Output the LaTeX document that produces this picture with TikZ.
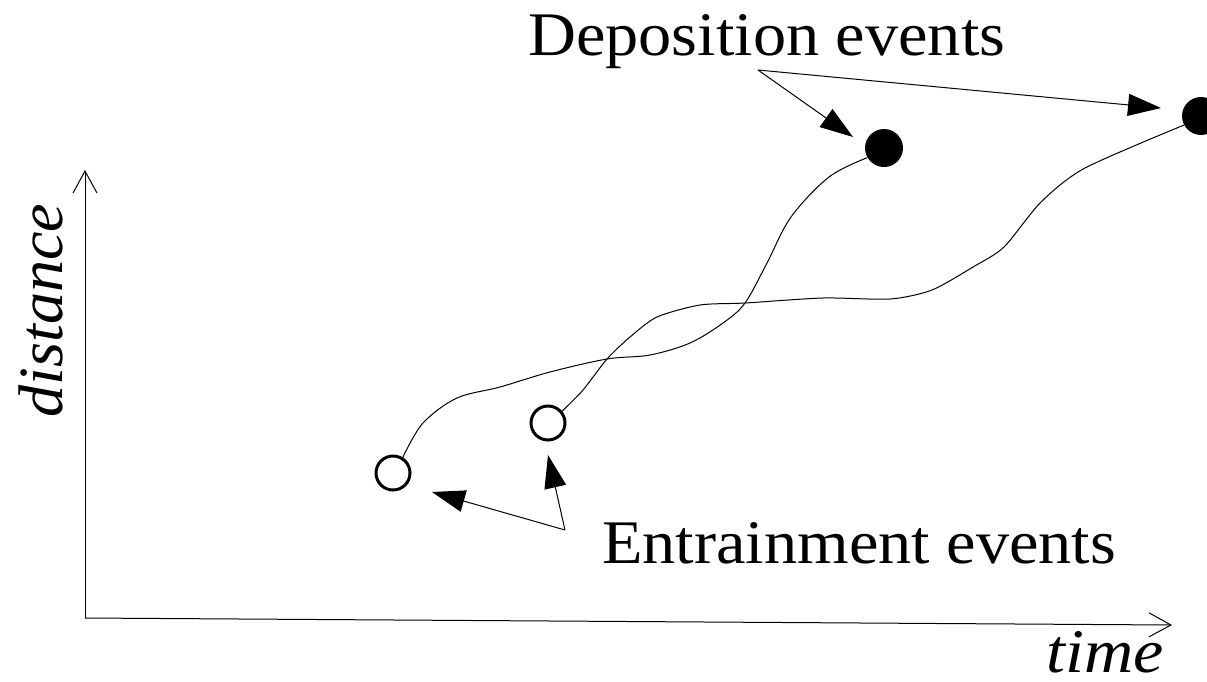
\documentclass[tikz,border=0pt]{standalone}
\usepackage{fontspec}
\setmainfont{Liberation Serif}
\newfontfamily\labelfont{Liberation Serif}[FakeStretch=1.07]
\newfontfamily\axisfont{Liberation Serif}[FakeStretch=1.1]
\newfontfamily\vaxisfont{Liberation Serif}[FakeStretch=1.02]
\usetikzlibrary{arrows.meta}

\tikzset{
  bigtext/.style={inner sep=0pt, font=\labelfont\fontsize{62}{70}\selectfont},
  axistext/.style={inner sep=0pt, font=\axisfont\fontsize{62}{70}\selectfont\itshape},
  vaxistext/.style={inner sep=0pt, font=\vaxisfont\fontsize{63}{70}\selectfont\itshape},
  axisline/.style={line width=1pt, -{Straight Barb[length=22pt,width=24pt,line width=1pt]}},
  pointer/.style={line width=1pt, -{Triangle[length=33pt,width=22pt]}},
  path line/.style={line width=1pt},
  entrain/.style={circle, draw, line width=3pt, minimum size=34pt, inner sep=0pt},
  deposit/.style={circle, fill, minimum size=38pt, inner sep=0pt},
}

\begin{document}
\begin{tikzpicture}[x=1pt,y=-1pt]
  \useasboundingbox (0,0) rectangle (1207,681);

  % axes
  \coordinate (origin) at (85,618);
  \coordinate (yend) at (85,170);
  \coordinate (xend) at (1172,625);
  \draw[axisline] (origin) -- (yend);
  \draw[axisline] (origin) -- (xend);
  \node[vaxistext, rotate=90, anchor=base west] (ylab) at (62,418) {distance};
  \node[axistext, anchor=base west] (xlab) at (1046,672) {time};

  % particle start and end points
  \node[entrain] (e1) at (393,473) {};
  \node[entrain] (e2) at (548,423) {};
  \node[deposit] (d1) at (884,148) {};
  \node[deposit] (d2) at (1201,116) {};

  % particle trajectories
  \draw[path line] plot[smooth, tension=0.55] coordinates {
    (e1.58) (423,423) (457,398) (500,387) (550,372) (607,359) (650,355)
    (690,343) (723,323) (745,303) (767,263) (791,217) (829,177) (d1.210)};
  \draw[path line] plot[smooth, tension=0.45] coordinates {
    (e2.40) (583,390) (607,359) (630,337) (657,317) (700,305) (745,303)
    (823,298) (890,299) (932,290) (973,267) (1004,247) (1041,202)
    (1085,168) (d2.208)};

  % labels and pointers
  \node[bigtext, anchor=base west] (dep) at (528,55) {Deposition events};
  \node[bigtext, anchor=base west] (ent) at (602,563) {Entrainment events};

  \coordinate (dsrc) at (758,70);
  \coordinate (esrc) at (565,530);
  \coordinate (d1tip) at (853,137);
  \coordinate (d2tip) at (1161,108);
  \coordinate (e1tip) at (432,492);
  \coordinate (e2tip) at (548,455);
  \draw[pointer] (dsrc) -- (d1tip);
  \draw[pointer] (dsrc) -- (d2tip);
  \draw[pointer] (esrc) -- (e1tip);
  \draw[pointer] (esrc) -- (e2tip);
\end{tikzpicture}
\end{document}
